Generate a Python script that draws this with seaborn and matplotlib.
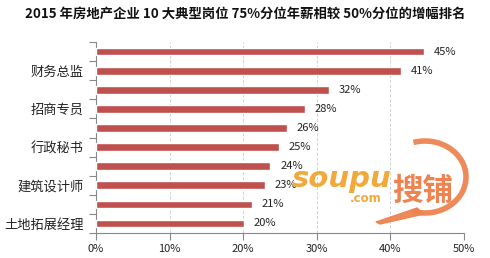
import matplotlib
matplotlib.use("Agg")
import matplotlib.pyplot as plt
from matplotlib.patches import Arc, Polygon
import seaborn as sns
import pandas as pd

title = "2015 年房地产企业 10 大典型岗位 75%分位年薪相较 50%分位的增幅排名"
ranks = ["1", "2", "3", "4", "5", "6", "7", "8", "9", "10"]
tick_labels = ["", "财务总监", "", "招商专员", "", "行政秘书", "", "建筑设计师", "", "土地拓展经理"]
values = [44.6, 41.4, 31.7, 28.4, 25.9, 24.8, 23.7, 23.0, 21.2, 20.1]
value_labels = ["45%", "41%", "32%", "28%", "26%", "25%", "24%", "23%", "21%", "20%"]
x_ticks = [0, 10, 20, 30, 40, 50]
x_tick_labels = ["0%", "10%", "20%", "30%", "40%", "50%"]

sns.set_theme(style="white")
plt.rcParams["font.family"] = ["Noto Sans CJK SC", "DejaVu Sans"]

df = pd.DataFrame({"rank": ranks, "value": values})

fig = plt.figure(figsize=(4.9, 2.58), dpi=100)
ax = fig.add_axes([0.196, 0.097, 0.751, 0.740])

sns.barplot(data=df, x="value", y="rank", order=ranks, orient="h",
            color="#C0504D", saturation=1, width=0.4, ax=ax, zorder=3)

ax.set_xlim(0, 50)
ax.set_ylim(9.5, -0.5)
ax.set_xticks(x_ticks)
ax.set_xticklabels(x_tick_labels, fontsize=8, color="#222222")
ax.set_yticks(range(len(ranks)))
ax.set_yticklabels(tick_labels, fontsize=9.5, color="#222222")
ax.set_yticks([i - 0.5 for i in range(len(ranks) + 1)], minor=True)
ax.tick_params(axis="y", which="major", length=0, pad=9)
ax.tick_params(axis="y", which="minor", length=5, width=0.8, color="#888888", direction="out", left=True)
ax.tick_params(axis="x", which="major", length=5, width=0.8, color="#888888", direction="out", bottom=True, pad=3)
ax.set_xlabel("")
ax.set_ylabel("")

for s in ["top", "right"]:
    ax.spines[s].set_visible(False)
for s in ["left", "bottom"]:
    ax.spines[s].set_color("#888888")
    ax.spines[s].set_linewidth(0.8)

ax.grid(axis="x", linestyle=(0, (3, 2)), color="#D0D0D0", linewidth=0.7, zorder=0)
ax.set_axisbelow(True)

ax.bar_label(ax.containers[0], labels=value_labels, padding=7, fontsize=8, color="#222222")

fig.text(0.5, 0.945, title, ha="center", va="center", fontsize=9.6, fontweight="bold", color="#111111")

# watermark
wm1 = "#F2A93B"
wm2 = "#EE8350"
fig.add_artist(Arc((425 / 490, 1 - 177 / 258), 82 / 490, 72 / 258, theta1=-100, theta2=100,
                   transform=fig.transFigure, color=wm2, linewidth=4, alpha=0.95, zorder=10))
fig.add_artist(Polygon([(417 / 490, 1 - 208 / 258), (424 / 490, 1 - 214 / 258),
                        (380 / 490, 1 - 224 / 258), (376 / 490, 1 - 222 / 258)],
                       closed=True, transform=fig.transFigure, color=wm2, zorder=10, alpha=0.95))
fig.text(292 / 490, 1 - 187 / 258, "soupu", fontsize=21, fontweight="bold", style="italic",
         color=wm1, ha="left", va="baseline", family="DejaVu Sans", zorder=11)
fig.text(350 / 490, 1 - 202 / 258, ".com", fontsize=8.5, fontweight="bold",
         color=wm1, ha="left", va="baseline", family="DejaVu Sans", zorder=11)
fig.text(392 / 490, 1 - 191 / 258, "搜铺", fontsize=22, fontweight="bold",
         color=wm2, ha="left", va="center", zorder=11)

fig.savefig("out.png", dpi=100)
